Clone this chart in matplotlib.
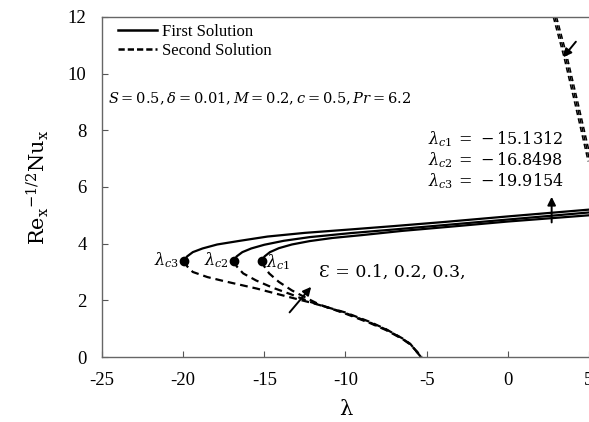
import numpy as np
import matplotlib.pyplot as plt

plt.rcParams['mathtext.fontset'] = 'dejavuserif'
plt.rcParams['font.family'] = ['Liberation Serif', 'DejaVu Serif']
plt.rcParams['axes.unicode_minus'] = False

# critical points (lambda_c, Nu at turning point)
lam_c = [-15.1312, -16.8498, -19.9154]
nu_c = [3.4, 3.4, 3.4]
eps_vals = ['0.1', '0.2', '0.3']

# first solution branches, eps = 0.1, 0.2, 0.3
first_x = [
    [-15.1312, -14.98, -14.65, -14.1, -13.3, -12.2, -10.8, -9.0, -6.5, -3.5, 0.0, 5.0],
    [-16.8498, -16.7, -16.35, -15.8, -15.0, -13.8, -12.2, -9.7, -7.0, -4.0, 0.0, 5.0],
    [-19.9154, -19.75, -19.4, -18.8, -17.9, -16.5, -14.8, -12.5, -9.7, -7.0, -4.0, 0.0, 5.0],
]
first_y = [
    [3.4, 3.55, 3.7, 3.84, 3.97, 4.09, 4.2, 4.3, 4.45, 4.6, 4.78, 5.0],
    [3.4, 3.55, 3.7, 3.83, 3.96, 4.1, 4.23, 4.37, 4.5, 4.65, 4.85, 5.1],
    [3.4, 3.55, 3.7, 3.83, 3.97, 4.1, 4.25, 4.38, 4.5, 4.62, 4.76, 4.96, 5.2],
]

# second solution branches, lower part
second_x = [
    [-15.1312, -15.0, -14.7, -14.1, -13.3, -12.4, -11.6, -10.0, -8.5, -7.5, -6.5, -6.0, -5.3],
    [-16.8498, -16.7, -16.3, -15.5, -14.5, -13.3, -12.2, -10.0, -8.5, -7.5, -6.5, -6.0, -5.32],
    [-19.9154, -19.75, -19.4, -18.5, -17.5, -15.5, -13.5, -12.0, -10.0, -8.5, -7.5, -6.5, -6.0, -5.35],
]
second_y = [
    [3.4, 3.2, 2.95, 2.65, 2.35, 2.08, 1.85, 1.53, 1.2, 0.95, 0.64, 0.44, 0.0],
    [3.4, 3.2, 2.95, 2.7, 2.45, 2.2, 1.95, 1.55, 1.22, 0.97, 0.65, 0.45, 0.0],
    [3.4, 3.2, 3.0, 2.82, 2.68, 2.42, 2.12, 1.9, 1.57, 1.24, 0.98, 0.66, 0.46, 0.0],
]

# second solution branches, upper right
upper_x = [
    [2.8, 3.45, 4.15, 4.95],
    [2.9, 3.55, 4.25, 5.05],
    [3.0, 3.65, 4.35, 5.15],
]
upper_y = [12.0, 10.6, 8.9, 6.9]

dash = (0, (3.5, 2.2))

fig = plt.figure(figsize=(5.89, 4.22), dpi=100)
ax = fig.add_axes([0.173, 0.154, 0.827, 0.806])

for xs, ys in zip(first_x, first_y):
    ax.plot(xs, ys, color='black', lw=1.6, solid_joinstyle='round')
for xs, ys in zip(second_x, second_y):
    ax.plot(xs, ys, color='black', lw=1.6, ls=dash)
for xs in upper_x:
    ax.plot(xs, upper_y, color='black', lw=1.1, ls=dash)

ax.plot(lam_c, nu_c, 'o', color='black', ms=6)

# legend entries
ax.plot([], [], color='black', lw=1.8, label='First Solution')
ax.plot([], [], color='black', lw=1.8, ls=(0, (2.5, 1.2)), label='Second Solution')
ax.legend(loc='upper left', frameon=False, fontsize=12, handlelength=2.3,
          handletextpad=0.3, labelspacing=0.2, borderaxespad=0.0,
          bbox_to_anchor=(0.02, 1.0))

ax.set_xlim(-25, 5)
ax.set_ylim(0, 12)
ax.set_xticks(np.arange(-25, 6, 5))
ax.set_yticks(np.arange(0, 13, 2))
ax.tick_params(direction='in', labelsize=13.5, length=4, color='#555555')
ax.tick_params(axis='y', pad=11)
ax.tick_params(axis='x', pad=11)
ax.spines['right'].set_visible(False)
for s in ax.spines.values():
    s.set_color('#666666')
    s.set_linewidth(1.0)

ax.set_xlabel('λ', fontsize=15, labelpad=8, family=['DejaVu Serif'])
ax.set_ylabel(r'$\mathrm{Re_x}^{-1/2}\mathrm{Nu_x}$', fontsize=15, labelpad=12)

ax.text(-24.6, 9.1, r'$S = 0.5, \delta = 0.01, M = 0.2, c = 0.5, Pr = 6.2$',
        fontsize=10.5, va='center')
ax.text(-4.9, 7.7, r'$\lambda_{c1}\, =\, -15.1312$', fontsize=11.5, va='center')
ax.text(-4.9, 6.95, r'$\lambda_{c2}\, =\, -16.8498$', fontsize=11.5, va='center')
ax.text(-4.9, 6.2, r'$\lambda_{c3}\, =\, -19.9154$', fontsize=11.5, va='center')

ax.text(lam_c[2] - 0.35, nu_c[2], r'$\lambda_{c3}$', fontsize=11.5, ha='right', va='center')
ax.text(lam_c[1] - 0.35, nu_c[1], r'$\lambda_{c2}$', fontsize=11.5, ha='right', va='center')
ax.text(lam_c[0] + 0.25, nu_c[0] - 0.05, r'$\lambda_{c1}$', fontsize=11.5, ha='left', va='center')

ax.text(-11.6, 3.0, 'Ɛ = ' + ', '.join(eps_vals) + ',', fontsize=12.5, va='center',
        family=['DejaVu Serif'])

arrow = dict(arrowstyle='-|>', color='black', lw=1.4, mutation_scale=12)
ax.annotate('', xy=(-12.0, 2.55), xytext=(-13.55, 1.5), arrowprops=arrow)
ax.annotate('', xy=(2.7, 5.75), xytext=(2.7, 4.65), arrowprops=arrow)
ax.annotate('', xy=(3.3, 10.5), xytext=(4.3, 11.2), arrowprops=arrow)

fig.savefig('out.png', dpi=100)
